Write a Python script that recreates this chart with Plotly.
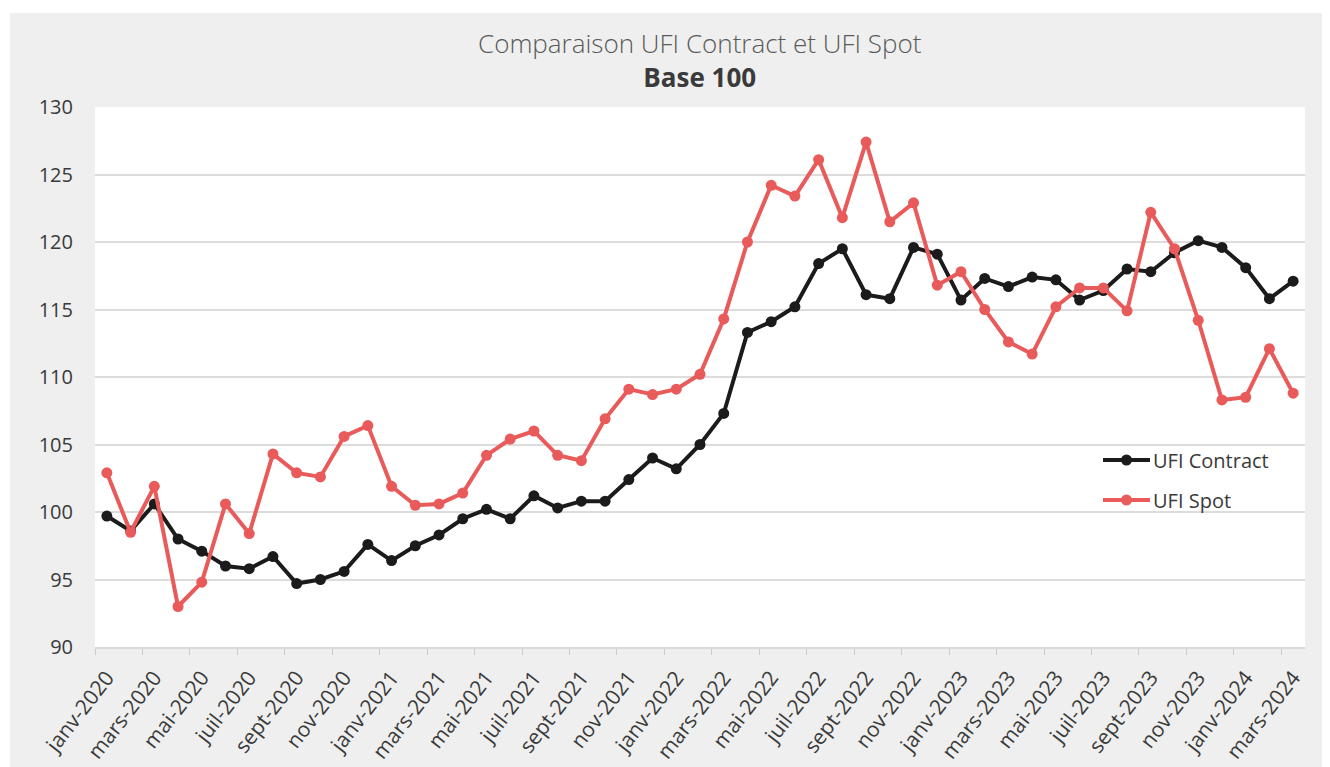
import plotly.graph_objects as go

months = ["janv", "févr", "mars", "avr", "mai", "juin", "juil", "août", "sept", "oct", "nov", "déc"]
categories = [f"{months[m]}-{y}" for y in range(2020, 2025) for m in range(12)][:51]

ufi_contract = [99.7, 98.6, 100.6, 98.0, 97.1, 96.0, 95.8, 96.7, 94.7, 95.0, 95.6, 97.6, 96.4,
                97.5, 98.3, 99.5, 100.2, 99.5, 101.2, 100.3, 100.8, 100.8, 102.4, 104.0, 103.2,
                105.0, 107.3, 113.3, 114.1, 115.2, 118.4, 119.5, 116.1, 115.8, 119.6, 119.1,
                115.7, 117.3, 116.7, 117.4, 117.2, 115.7, 116.4, 118.0, 117.8, 119.2, 120.1,
                119.6, 118.1, 115.8, 117.1]
ufi_spot = [102.9, 98.5, 101.9, 93.0, 94.8, 100.6, 98.4, 104.3, 102.9, 102.6, 105.6, 106.4, 101.9,
            100.5, 100.6, 101.4, 104.2, 105.4, 106.0, 104.2, 103.8, 106.9, 109.1, 108.7, 109.1,
            110.2, 114.3, 120.0, 124.2, 123.4, 126.1, 121.8, 127.4, 121.5, 122.9, 116.8, 117.8,
            115.0, 112.6, 111.7, 115.2, 116.6, 116.6, 114.9, 122.2, 119.5, 114.2, 108.3, 108.5,
            112.1, 108.8]
series_names = ["UFI Contract", "UFI Spot"]
series_colors = ["#1b1b1b", "#e95a5a"]
y_ticks = [90, 95, 100, 105, 110, 115, 120, 125, 130]
title_text = "Comparaison UFI Contract et UFI Spot"
subtitle_text = "Base 100"

# page body has an 8px margin: figure occupies screen from (8, 8) to (1330, 767)
OFF = 8
VW, VH = 1330, 767
W, H = VW - OFF, VH - OFF
PL, PT, PR, PB = 95, 107, 1305, 647          # plot area in screen pixels
ML, MT, MR, MB = PL - OFF, PT - OFF, VW - PR, VH - PB
PW, PH = PR - PL, PB - PT

x_idx = list(range(len(categories)))
label_idx = x_idx[::2]
label_text = [categories[i] for i in label_idx]
boundary_ticks = [i - 0.5 for i in label_idx]


def px_x(p):
    return (p - PL) / PW


def px_y(p):
    return (PB - p) / PH


fig = go.Figure()
for name, vals, col in zip(series_names, [ufi_contract, ufi_spot], series_colors):
    fig.add_trace(go.Scatter(x=x_idx, y=vals, name=name, mode="lines+markers",
                             line=dict(color=col, width=4), marker=dict(size=11, color=col),
                             showlegend=False))

shapes = [
    dict(type="rect", xref="paper", yref="paper", x0=px_x(0), x1=px_x(VW), y0=px_y(13), y1=px_y(0),
         fillcolor="#ffffff", line=dict(width=0), layer="above"),
    dict(type="rect", xref="paper", yref="paper", x0=px_x(0), x1=px_x(10), y0=px_y(VH), y1=px_y(0),
         fillcolor="#ffffff", line=dict(width=0), layer="above"),
]
annotations = [
    dict(text=title_text + "<br><b><span style='color:#3a3a3a'>" + subtitle_text + "</span></b>",
         xref="paper", yref="paper", x=px_x(700), y=px_y(60),
         xanchor="center", yanchor="middle", showarrow=False,
         font=dict(family="Open Sans", size=26, color="#5a5a5a", weight=300)),
]

# custom legend (line + marker + label)
leg_x0, leg_x1, leg_y0, leg_dy = 1103, 1150, 460, 40
for k, (name, col) in enumerate(zip(series_names, series_colors)):
    yy = leg_y0 + k * leg_dy
    shapes.append(dict(type="line", xref="paper", yref="paper", x0=px_x(leg_x0), x1=px_x(leg_x1),
                       y0=px_y(yy), y1=px_y(yy), line=dict(color=col, width=4), layer="above"))
    shapes.append(dict(type="circle", xref="paper", yref="paper",
                       x0=px_x((leg_x0 + leg_x1) / 2 - 5.5), x1=px_x((leg_x0 + leg_x1) / 2 + 5.5),
                       y0=px_y(yy + 5.5), y1=px_y(yy - 5.5),
                       fillcolor=col, line=dict(width=0), layer="above"))
    annotations.append(dict(text=name, xref="paper", yref="paper", x=px_x(leg_x1 + 1), y=px_y(yy),
                            xanchor="left", yanchor="middle", showarrow=False,
                            font=dict(family="Open Sans", size=20, color="#3a3a3a")))

fig.update_layout(
    width=W, height=H,
    margin=dict(l=ML, r=MR, t=MT, b=MB, autoexpand=False),
    paper_bgcolor="#eeefee",
    plot_bgcolor="#ffffff",
    font=dict(family="Open Sans", color="#3a3a3a"),
    xaxis=dict(range=[-0.5, 50.5], tickmode="array", tickvals=label_idx, ticktext=label_text,
               tickangle=-52, ticks="", showgrid=False, zeroline=False,
               showline=True, linecolor="#d9d9d9", linewidth=2,
               tickfont=dict(size=21, color="#3a3a3a"), ticklabelstandoff=8,
               minor=dict(tickmode="array", tickvals=boundary_ticks, ticks="outside",
                          ticklen=6, tickcolor="#cccccc", tickwidth=1, showgrid=False)),
    yaxis=dict(range=[90, 130], tickmode="array", tickvals=y_ticks, showgrid=True,
               gridcolor="#dcdcdc", gridwidth=2, zeroline=False, showline=False,
               tickfont=dict(size=20, color="#3a3a3a"), ticklabelstandoff=21),
    showlegend=False,
    shapes=shapes,
    annotations=annotations,
)

fig.write_html("out.html")
